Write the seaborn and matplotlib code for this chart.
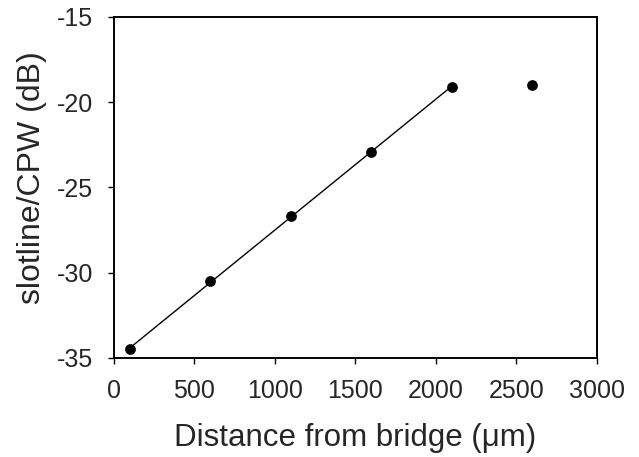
import matplotlib
matplotlib.use("Agg")
import matplotlib.pyplot as plt
import seaborn as sns
import pandas as pd

# ─── Data ─────────────────────────────────────────────────────────────────────
distance_um = [100, 600, 1100, 1600, 2100, 2600]
ratio_db    = [-34.5, -30.5, -26.7, -22.9, -19.1, -19.0]
N_FIT       = 5          # linear fit uses the first five points

x_ticks = [0, 500, 1000, 1500, 2000, 2500, 3000]
y_ticks = [-35, -30, -25, -20, -15]

df  = pd.DataFrame({"distance": distance_um, "ratio": ratio_db})
fit = df.iloc[:N_FIT]

# ─── Style ────────────────────────────────────────────────────────────────────
sns.set_style("ticks")
plt.rcParams["font.family"] = ["Liberation Sans", "DejaVu Sans"]

fig = plt.figure(figsize=(6.39, 4.57), dpi=100)
ax = fig.add_axes([0.178, 0.217, 0.756, 0.746])

sns.regplot(data=fit, x="distance", y="ratio", ci=None, scatter=False, truncate=True,
            color="black", line_kws={"linewidth": 1.0}, ax=ax)
sns.scatterplot(data=df, x="distance", y="ratio", color="black", s=60,
                edgecolor="black", linewidth=0, zorder=3, ax=ax)

ax.set_xlim(0, 3000)
ax.set_ylim(-35, -15)
ax.set_xticks(x_ticks)
ax.set_yticks(y_ticks)
ax.set_xticklabels([str(t) for t in x_ticks], fontsize=18)
ax.set_yticklabels([str(t) for t in y_ticks], fontsize=18)
ax.tick_params(axis="both", direction="out", length=4, width=1.0, color="black")
ax.tick_params(axis="x", pad=11)
ax.tick_params(axis="y", pad=11)

for s in ax.spines.values():
    s.set_visible(True)
    s.set_linewidth(1.4)
    s.set_color("black")

ax.set_xlabel("Distance from bridge (μm)", fontsize=22.5)
ax.set_ylabel("slotline/CPW (dB)", fontsize=23)
ax.xaxis.set_label_coords(0.5, -0.19)
ax.yaxis.set_label_coords(-0.138, 0.53)

fig.savefig("out.png", dpi=100)
plt.close(fig)
